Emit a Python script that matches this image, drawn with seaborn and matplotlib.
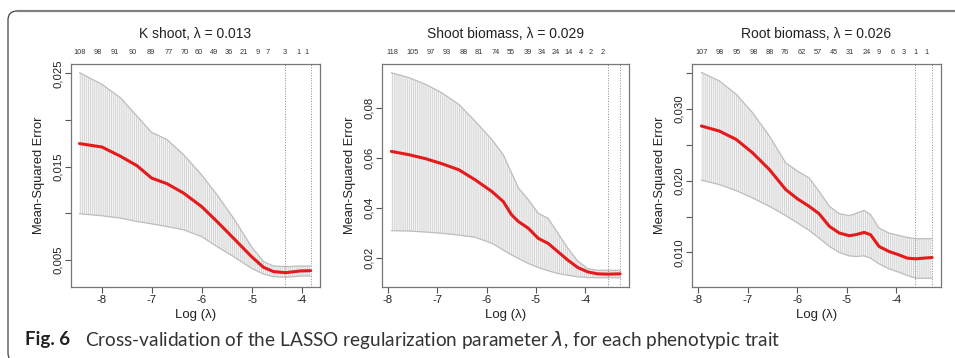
import numpy as np
import pandas as pd
import matplotlib
matplotlib.use("Agg")
import matplotlib.pyplot as plt
from matplotlib.patches import FancyBboxPatch
from matplotlib.lines import Line2D
from matplotlib.transforms import IdentityTransform, blended_transform_factory
import seaborn as sns

sns.set_theme(style="white")
plt.rcParams["font.family"] = ["Liberation Sans", "DejaVu Sans"]
plt.rcParams["hatch.linewidth"] = 0.55

# --- K shoot ---
k_log = [-8.45, -8.0, -7.63, -7.3, -7.01, -6.7, -6.37, -6.01, -5.7, -5.37, -5.01, -4.77, -4.57, -4.33, -4.03, -3.83]
k_mean = [0.01747, 0.0171, 0.01611, 0.0151, 0.01378, 0.01317, 0.01217, 0.01073, 0.00912, 0.00733, 0.00536, 0.00421, 0.00375, 0.00364, 0.00382, 0.00385]
k_upper = [0.02507, 0.02382, 0.02238, 0.02041, 0.01869, 0.0179, 0.01629, 0.01414, 0.01199, 0.00948, 0.00643, 0.00482, 0.00435, 0.00428, 0.00435, 0.00435]
k_lower = [0.00995, 0.00973, 0.00948, 0.00912, 0.00887, 0.00858, 0.00823, 0.00751, 0.00643, 0.00536, 0.0041, 0.00349, 0.00321, 0.00314, 0.00328, 0.00328]
k_top_pos = [-8.45, -8.09, -7.75, -7.39, -7.03, -6.67, -6.35, -6.07, -5.77, -5.47, -5.17, -4.89, -4.69, -4.35, -4.07, -3.91]
k_top_nz = ["108", "98", "91", "90", "89", "77", "70", "60", "49", "36", "21", "9", "7", "3", "1", "1"]
k_vlines = [-4.35, -3.83]

# --- Shoot biomass ---
s_log = [-7.93, -7.57, -7.23, -6.9, -6.56, -6.23, -5.89, -5.66, -5.49, -5.35, -5.15, -4.95, -4.75, -4.55, -4.35, -4.15, -3.95, -3.75, -3.53, -3.29]
s_mean = [0.0626, 0.06126, 0.05965, 0.05764, 0.05523, 0.05121, 0.04652, 0.0425, 0.03715, 0.03447, 0.03179, 0.02777, 0.02576, 0.02241, 0.01906, 0.01611, 0.01437, 0.01357, 0.01344, 0.01357]
s_upper = [0.0941, 0.0921, 0.0894, 0.086, 0.0814, 0.0747, 0.0673, 0.0613, 0.0539, 0.0479, 0.0432, 0.0378, 0.0358, 0.0298, 0.0238, 0.0187, 0.0157, 0.015, 0.015, 0.015]
s_lower = [0.03085, 0.0307, 0.0303, 0.0298, 0.0291, 0.0282, 0.0258, 0.0231, 0.0211, 0.0197, 0.0177, 0.0161, 0.0148, 0.0137, 0.013, 0.0124, 0.0121, 0.012, 0.012, 0.012]
s_top_pos = [-7.92, -7.50, -7.13, -6.81, -6.47, -6.16, -5.82, -5.51, -5.17, -4.88, -4.60, -4.33, -4.09, -3.88, -3.65]
s_top_nz = ["118", "105", "97", "93", "88", "81", "74", "55", "39", "34", "24", "14", "4", "2", "2"]
s_vlines = [-3.53, -3.29]

# --- Root biomass ---
r_log = [-7.93, -7.57, -7.23, -6.9, -6.56, -6.23, -5.99, -5.76, -5.56, -5.35, -5.15, -4.95, -4.82, -4.65, -4.52, -4.35, -4.15, -3.95, -3.78, -3.61, -3.45, -3.28]
r_mean = [0.02758, 0.02688, 0.02572, 0.02386, 0.02153, 0.01874, 0.01744, 0.01642, 0.0154, 0.01363, 0.0127, 0.01233, 0.01247, 0.01279, 0.01247, 0.01084, 0.01014, 0.00967, 0.00921, 0.00912, 0.00921, 0.0093]
r_upper = [0.03502, 0.03386, 0.032, 0.02944, 0.02619, 0.02246, 0.0213, 0.02037, 0.01851, 0.01642, 0.0154, 0.01512, 0.0154, 0.01586, 0.01526, 0.0134, 0.0127, 0.01237, 0.01209, 0.01191, 0.01191, 0.01191]
r_lower = [0.02005, 0.01944, 0.0186, 0.01758, 0.01642, 0.01512, 0.01409, 0.01307, 0.012, 0.01084, 0.01, 0.00953, 0.00944, 0.00953, 0.00921, 0.00842, 0.00772, 0.00726, 0.00679, 0.00642, 0.00642, 0.00642]
r_top_pos = [-7.92, -7.57, -7.21, -6.87, -6.56, -6.25, -5.90, -5.58, -5.25, -4.94, -4.60, -4.35, -4.08, -3.85, -3.61, -3.39]
r_top_nz = ["107", "98", "95", "98", "88", "76", "62", "57", "45", "31", "24", "9", "6", "3", "1", "1"]
r_vlines = [-3.63, -3.28]

titles = ["K shoot, λ = 0.013", "Shoot biomass, λ = 0.029", "Root biomass, λ = 0.026"]
caption = "Cross-validation of the LASSO regularization parameter $\\lambda$, for each phenotypic trait"

panels = [
    dict(log=k_log, mean=k_mean, upper=k_upper, lower=k_lower, top_pos=k_top_pos, top_nz=k_top_nz,
         vlines=k_vlines, title=titles[0], yticks=[0.005, 0.010, 0.015, 0.020, 0.025],
         ylabels=["0,005", "", "0,015", "", "0,025"], xlim=(-8.62, -3.64), ylim=(0.0021, 0.0260),
         rect=[71, 64, 249, 223]),
    dict(log=s_log, mean=s_mean, upper=s_upper, lower=s_lower, top_pos=s_top_pos, top_nz=s_top_nz,
         vlines=s_vlines, title=titles[1], yticks=[0.02, 0.04, 0.06, 0.08],
         ylabels=["0,02", "0,04", "0,06", "0,08"], xlim=(-8.12, -3.11), ylim=(0.0083, 0.0976),
         rect=[382, 64, 247, 223]),
    dict(log=r_log, mean=r_mean, upper=r_upper, lower=r_lower, top_pos=r_top_pos, top_nz=r_top_nz,
         vlines=r_vlines, title=titles[2], yticks=[0.010, 0.015, 0.020, 0.025, 0.030, 0.035],
         ylabels=["0,010", "", "0,020", "", "0,030", ""], xlim=(-8.12, -3.10), ylim=(0.0052, 0.0362),
         rect=[692, 64, 249, 223]),
]

W, H = 955, 358
fig = plt.figure(figsize=(W / 100, H / 100), dpi=100)
fig.patch.set_facecolor("white")

for p in panels:
    x0, top, w, h = p["rect"]
    ax = fig.add_axes([x0 / W, 1 - (top + h) / H, w / W, h / H])
    df = pd.DataFrame({"log_lambda": p["log"], "mse": p["mean"],
                       "upper": p["upper"], "lower": p["lower"]})

    # error bars band (dense vertical hatching mimics the cv error bars)
    ax.fill_between(df["log_lambda"], df["lower"], df["upper"], facecolor="#f4f4f4",
                    edgecolor="#cdcdcd", hatch="||||||||", linewidth=0, zorder=1)
    ax.plot(df["log_lambda"], df["upper"], color="#bdbdbd", lw=0.9, zorder=2)
    ax.plot(df["log_lambda"], df["lower"], color="#bdbdbd", lw=0.9, zorder=2)
    sns.lineplot(data=df, x="log_lambda", y="mse", color="#e41a1c", lw=2.2, ax=ax, zorder=4)
    for v in p["vlines"]:
        ax.axvline(v, color="#8a8a8a", lw=0.7, ls=":", zorder=3)

    ax.set_xlim(p["xlim"])
    ax.set_ylim(p["ylim"])
    ax.set_xticks([-8, -7, -6, -5, -4])
    ax.set_xticklabels(["-8", "-7", "-6", "-5", "-4"])
    ax.set_yticks(p["yticks"])
    ax.set_yticklabels(p["ylabels"], rotation=90, va="center")
    ax.tick_params(bottom=True, left=True, direction="out", length=4, width=0.8,
                   color="#555555", labelsize=8.2, pad=2, labelcolor="#222222")
    for s in ax.spines.values():
        s.set_color("#777777")
        s.set_linewidth(0.9)

    ax.set_xlabel("Log (λ)", fontsize=9.5, color="#222222")
    ax.xaxis.set_label_coords(0.5, -0.097)
    ax.set_ylabel("Mean-Squared Error", fontsize=9.3, color="#222222")
    ax.yaxis.set_label_coords(-0.105, 0.5)

    ax.text(0.5, 1 + 30 / h, p["title"], transform=ax.transAxes, ha="center", va="center",
            fontsize=10, color="#222222")
    tr = blended_transform_factory(ax.transData, ax.transAxes)
    for pos, lab in zip(p["top_pos"], p["top_nz"]):
        ax.text(pos, 1 + 12 / h, lab, transform=tr, ha="center", va="center",
                fontsize=5.3, color="#333333")

# rounded frame of the figure panel
frame = FancyBboxPatch((8, -4), 1000, 351, boxstyle="round,pad=0,rounding_size=9",
                       transform=IdentityTransform(), facecolor="none", edgecolor="#444444",
                       lw=0.9)
fig.patches.append(frame)
fig.add_artist(Line2D([17, 955], [347, 347], transform=IdentityTransform(),
                      color="#808080", lw=1.6))

fig.text(25 / W, 1 - 340 / H, "Fig. 6", fontsize=13.5, fontweight="bold",
         family=["Lato", "DejaVu Sans"], color="#222222", va="center")
fig.text(85 / W, 1 - 340 / H, caption, fontsize=13.7,
         family=["Lato", "DejaVu Sans"], color="#333333", va="center")

fig.savefig("out.png", dpi=100, facecolor="white")
